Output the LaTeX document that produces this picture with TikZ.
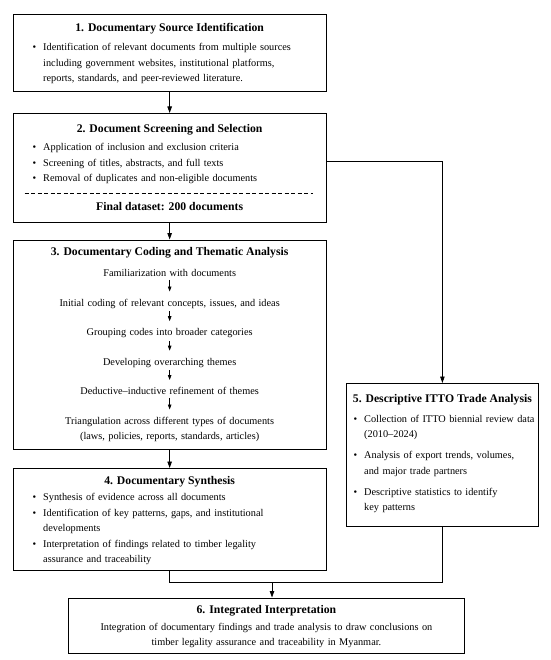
\documentclass[tikz,border=0pt]{standalone}
\usepackage{fontspec}
\setmainfont{Liberation Serif}
\usetikzlibrary{arrows.meta,positioning,calc}

\newcommand{\bitem}[1]{\hangindent=10.5pt\hangafter=1\noindent\makebox[10.5pt][l]{\textbullet}#1\par}

\tikzset{
  stage/.style={draw, line width=0.8pt, anchor=north west, inner sep=0pt},
  stagettl/.style={anchor=base, inner sep=0pt, font=\fontsize{11.7}{13}\selectfont\bfseries},
  stagelst/.style={anchor=base west, inner sep=0pt, text width=#1, align=left, font=\fontsize{10.3}{15.5}\selectfont},
  steptxt/.style={anchor=base, inner sep=0pt, text width=290pt, align=center, font=\fontsize{10.3}{15}\selectfont},
  flow/.style={line width=0.8pt, -{Triangle[length=6.5pt,width=4.5pt]}},
  substep/.style={line width=0.7pt, -{Triangle[length=5pt,width=3.5pt]}, shorten <=3pt, shorten >=7pt},
  joint/.style={line width=0.8pt},
  sepline/.style={line width=0.7pt, dash pattern=on 4pt off 2.5pt}
}

\begin{document}
\begin{tikzpicture}[x=1pt,y=-1pt]
  \useasboundingbox (0,0) rectangle (550,660);

  %% 1. source identification
  \node[stage, minimum width=313.5pt, minimum height=77pt] (box_1) at (12.5,14) {};
  \node[stagettl] (ttl_1) at ($(box_1.north)+(0,18)$) {1. Documentary Source Identification};
  \node[stagelst=300pt] (lst_1) at ($(box_1.north west)+(20,36.8)$) {%
    \bitem{Identification of relevant documents from multiple sources\newline
      including government websites, institutional platforms,\newline
      reports, standards, and peer-reviewed literature.}};

  %% 2. screening and selection
  \node[stage, minimum width=313.5pt, minimum height=108.5pt] (box_2) at (12.5,113) {};
  \node[stagettl] (ttl_2) at ($(box_2.north)+(0,19.7)$) {2. Document Screening and Selection};
  \node[stagelst=290pt] (lst_2) at ($(box_2.north west)+(20,38)$) {%
    \bitem{Application of inclusion and exclusion criteria}%
    \bitem{Screening of titles, abstracts, and full texts}%
    \bitem{Removal of duplicates and non-eligible documents}};
  \draw[sepline] ($(box_2.north west)+(12,80.3)$) -- ($(box_2.north east)+(-14,80.3)$);
  \node[stagettl] (final_2) at ($(box_2.north)+(0,97.4)$) {Final dataset: 200 documents};

  %% 3. coding and thematic analysis
  \node[stage, minimum width=313.5pt, minimum height=209.5pt] (box_3) at (12.5,239.5) {};
  \node[stagettl] (ttl_3) at ($(box_3.north)+(0,15.9)$) {3. Documentary Coding and Thematic Analysis};
  \foreach \txt [count=\i] in {Familiarization with documents,
      {Initial coding of relevant concepts, issues, and ideas},
      Grouping codes into broader categories,
      Developing overarching themes,
      Deductive--inductive refinement of themes,
      {Triangulation across different types of documents\\(laws, policies, reports, standards, articles)}} {
    \node[steptxt] (step_\i) at ($(box_3.north)+(0,37+29.5*\i-29.5)$) {\txt};
  }
  \foreach \i [remember=\i as \j (initially 1)] in {2,...,6} {
    \draw[substep] (step_\j) -- (step_\i);
  }

  %% 4. synthesis
  \node[stage, minimum width=313.5pt, minimum height=101.5pt] (box_4) at (12.5,468) {};
  \node[stagettl] (ttl_4) at ($(box_4.north)+(0,16.7)$) {4. Documentary Synthesis};
  \node[stagelst=290pt] (lst_4) at ($(box_4.north west)+(20,32.8)$) {%
    \bitem{Synthesis of evidence across all documents}%
    \bitem{Identification of key patterns, gaps, and institutional\newline developments}%
    \bitem{Interpretation of findings related to timber legality\newline assurance and traceability}};

  %% 5. ITTO trade analysis
  \node[stage, minimum width=192pt, minimum height=143pt] (box_5) at (346,383) {};
  \node[stagettl] (ttl_5) at ($(box_5.north)+(0,19.7)$) {5. Descriptive ITTO Trade Analysis};
  \node[stagelst=182pt] (lst_5) at ($(box_5.north west)+(7.5,39.3)$) {%
    \setlength{\parskip}{5.5pt}%
    \bitem{Collection of ITTO biennial review data\newline (2010--2024)}%
    \bitem{Analysis of export trends, volumes,\newline and major trade partners}%
    \bitem{Descriptive statistics to identify\newline key patterns}};

  %% 6. integrated interpretation
  \node[stage, minimum width=396pt, minimum height=55.5pt] (box_6) at (68,597.5) {};
  \node[stagettl] (ttl_6) at ($(box_6.north)+(0,15.5)$) {6. Integrated Interpretation};
  \node[steptxt, text width=390pt] (txt_6) at ($(box_6.north)+(0,32.5)$) {Integration of documentary findings and trade analysis to draw conclusions on\\
    timber legality assurance and traceability in Myanmar.};

  %% connectors
  \draw[flow] (box_1) -- (box_2);
  \draw[flow] (box_2) -- (box_3);
  \draw[flow] (box_3) -- (box_4);
  \draw[flow] ($(box_2.east)+(0,-6)$) -| (box_5.north);
  \coordinate (merge_l) at ($(box_4.south)+(0,12.5)$);
  \draw[joint] (box_4.south) -- (merge_l) -- (merge_l -| box_5.south) -- (box_5.south);
  \coordinate (join) at (272,582);
  \draw[flow] (join) -- (join |- box_6.north);
\end{tikzpicture}
\end{document}
